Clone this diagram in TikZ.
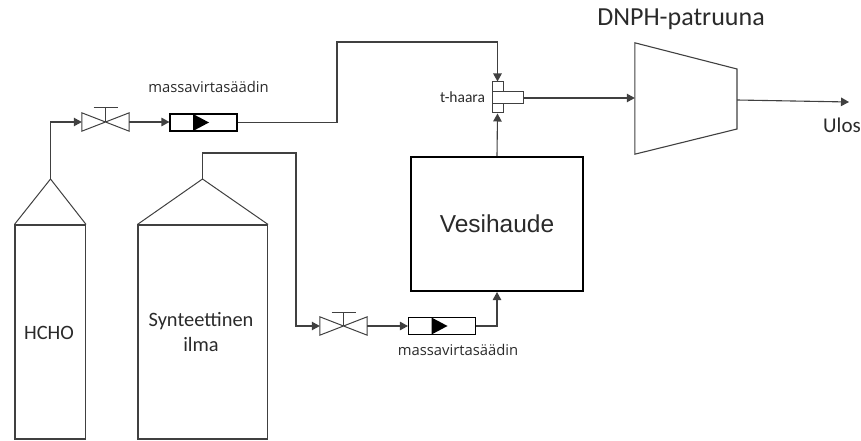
\documentclass[tikz,border=0pt]{standalone}
\usepackage{fontspec}
\setmainfont{Carlito}
\newfontfamily\opensans{Open Sans}
\newfontfamily\arialfont{Liberation Sans}
\usetikzlibrary{positioning,arrows.meta,calc}
\definecolor{ink}{HTML}{404040}
\definecolor{textc}{HTML}{2A2A2A}
\newcommand{\valve}[2]{%
  \node[valvebox] (#1) at (#2) {};
  \draw[part] (#1.north west) -- (#1.south east) -- (#1.north east) -- (#1.south west) -- cycle;
  \draw[part] (#1.center) -- ++(0,-14) coordinate (#1top);
  \draw[part] ($(#1top)+(-12,0)$) -- ($(#1top)+(12,0)$);
}
\newcommand{\regulator}[2]{%
  \node[regbox] (#1) at (#2) {};
  \fill[black] ($(#1.center)+(-10.5,-8.5)$) -- ($(#1.center)+(5.5,0)$) -- ($(#1.center)+(-10.5,8.5)$) -- cycle;
}
\begin{document}
\begin{tikzpicture}[x=1pt, y=-1pt, text=textc, >={Triangle[length=8pt,width=8.5pt]},
  part/.style={draw=ink, line width=1pt},
  valvebox/.style={minimum width=47pt, minimum height=18pt, inner sep=0pt},
  regbox/.style={draw=black, line width=1.1pt, fill=white, minimum width=67pt, minimum height=17pt, inner sep=0pt},
  tank/.style={draw=ink, line width=1.1pt, inner sep=0pt},
  tanklabel/.style={font=\fontsize{20.4}{25}\selectfont, align=center},
  reglabel/.style={font=\opensans\fontsize{14.8}{16}\selectfont, inner sep=0pt},
  flow/.style={->, draw=ink, line width=1.1pt}]
\useasboundingbox (0,0) rectangle (861,441);
% -- tanks
\node[tank, minimum width=70.5pt, minimum height=214pt] (hcho) at (50.25,332) {};
\node[tanklabel] (hcholabel) at (49,333) {HCHO};
\coordinate (hchotop) at (50.5,179);
\draw[part] (hcho.north west) -- (hchotop) -- (hcho.north east);
\node[tank, minimum width=129.5pt, minimum height=214pt] (air) at (202.75,332) {};
\node[tanklabel] (airlabel) at (201,332) {Synteettinen\\ilma};
\coordinate (airtop) at (202.5,179);
\draw[part] (air.north west) -- (airtop) -- (air.north east);
% -- upper line
\valve{v1}{105.5,122}
\regulator{r1}{203.5,122.5}
\node[reglabel] (l1) at (208.5,87) {massavirtasäädin};
% -- lower line
\valve{v2}{343.5,326}
\regulator{r2}{442,326}
\node[reglabel] (l2) at (458,350) {massavirtasäädin};
% -- humidifier
\node[draw=black, line width=2pt, minimum width=172pt, minimum height=134pt, inner sep=0pt] (hum) at (497,224) {};
\node[font=\arialfont\fontsize{24.5}{28}\selectfont] (humlabel) at (hum.center) {Vesihaude};
% -- t piece
\node[draw=ink, line width=1pt, fill=white, minimum width=11pt, minimum height=31pt, inner sep=0pt] (tv) at (497.5,97.5) {};
\node[draw=ink, line width=1pt, fill=white, minimum width=31pt, minimum height=12pt, inner sep=0pt] (th) at (507.5,98) {};
\node[font=\fontsize{15.5}{17}\selectfont, inner sep=0pt] (tl) at (462.5,97) {t-haara};
% -- cartridge
\node[minimum width=102pt, minimum height=111pt, inner sep=0pt] (dnph) at (686,98.5) {};
\draw[draw=ink, line width=1.1pt] (dnph.north west) -- (737,69) -- (737,129) -- (dnph.south west) -- cycle;
\node[font=\fontsize{26}{29}\selectfont, inner sep=0pt] (dl) at (681,19) {DNPH-patruuna};
\coordinate (out) at (849,102);
\node[font=\fontsize{21}{24}\selectfont, inner sep=0pt] (ul) at (842,125) {Ulos};
% -- connectors
\draw[flow] (hchotop) |- (v1.west);
\draw[flow] (v1.east) -- (r1.west |- v1.east);
\draw[flow] (r1.east) -| (337,42) -| (tv.north);
\draw[flow] (airtop) |- (296,153) |- (v2.west);
\draw[flow] (v2.east) -- (r2.west);
\draw[flow] (r2.east) -| (hum.south);
\draw[flow] (hum.north) -- (tv.south);
\draw[flow] (th.east) -- (th.east -| dnph.west);
\draw[flow] (737,100) -- (out);
\end{tikzpicture}
\end{document}
